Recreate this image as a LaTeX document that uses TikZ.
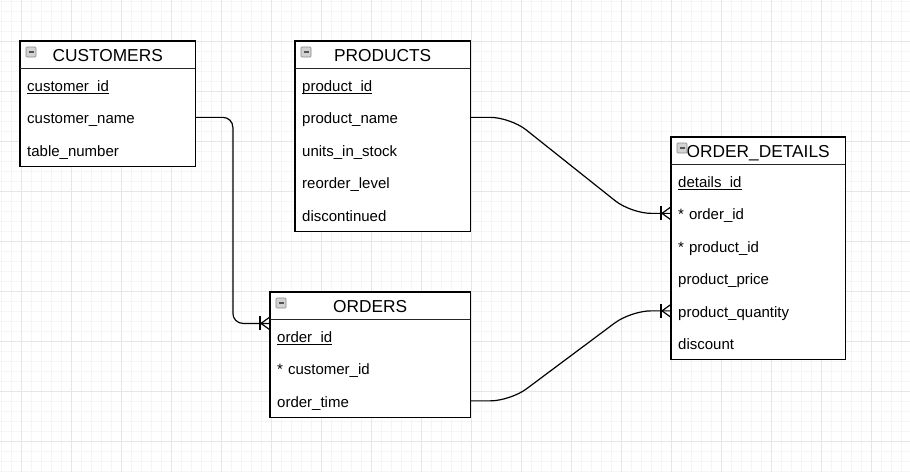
\documentclass[tikz,border=0pt]{standalone}
\usepackage{fontspec}
\setmainfont{Liberation Sans}
\usetikzlibrary{calc}

\definecolor{gridminor}{HTML}{F5F5F5}
\definecolor{gridmajor}{HTML}{E6E6E6}
\definecolor{iconfill}{HTML}{D2D2D2}
\definecolor{iconline}{HTML}{8A8A8A}
\definecolor{icondash}{HTML}{555555}

% primary-key field: text with an underline at a fixed depth
\newcommand\pkfield[1]{\setbox0=\hbox{#1}\rlap{\rule[-2.2pt]{\wd0}{0.75pt}}\box0}

\tikzset{
  x=1pt, y=1pt,
  gridthin/.style={draw=gridminor, line width=0.6pt},
  gridthick/.style={draw=gridmajor, line width=0.8pt},
  headbox/.style={fill=white, inner sep=0pt, minimum height=27pt,
    font=\fontsize{17.3}{20}\selectfont, text height=15pt, text depth=1pt},
  rowbox/.style={fill=white, inner sep=0pt, minimum height=32.5pt,
    align=left, font=\fontsize{15}{18}\selectfont, text height=14pt, text depth=1.5pt},
  tableframe/.style={draw=black, line width=1.2pt},
  headrule/.style={draw=black!85, line width=1.4pt},
  iconbox/.style={fill=iconfill, draw=iconline, line width=0.6pt, rounded corners=0.8pt},
  icondash/.style={draw=icondash, line width=1.2pt},
  rel/.style={draw=black, line width=1.2pt},
  crowfoot/.pic={
    \draw[rel] (-9,0) -- (0,6.5) (-9,0) -- (0,-6.5);
    \draw[rel] (-10,-7) -- (-10,7);
  }
}

% \erTable{name}{left}{top}{width}{title}{rows}; the first row is the key
\newcommand\erTable[6]{%
  \pgfmathsetmacro\rowtw{#4-14}%
  \node[headbox, minimum width=#4pt, anchor=north west] (#1) at (#2,#3) {#5};
  \foreach \txt [count=\i] in {#6} {
    \ifnum\i=1 \def\shown{\pkfield{\txt}}\else\def\shown{\txt}\fi
    \node[rowbox, minimum width=#4pt, text width=\rowtw pt, anchor=north west]
      (#1-\i) at ($(#1.south west)+(0,{-32.5*(\i-1)})$) {\shown};
    \xdef\lastrow{\i}
  }
  \draw[tableframe] (#1.north west) rectangle (#1-\lastrow.south east);
  \draw[headrule] (#1.south west) -- (#1.south east);
  \draw[iconbox] ($(#1.north west)+(6,-6)$) rectangle ++(10,-10);
  \draw[icondash] ($(#1.north west)+(8.5,-11)$) -- ++(5,0);
}

\begin{document}
\begin{tikzpicture}
\useasboundingbox (0,0) rectangle (910,-472);

% background grid
\foreach \gx in {1,11,...,910} \draw[gridthin] (\gx,0) -- (\gx,-472);
\foreach \gy in {1,11,...,472} \draw[gridthin] (0,-\gy) -- (910,-\gy);
\foreach \gx in {21,71,...,910} \draw[gridthick] (\gx,0) -- (\gx,-472);
\foreach \gy in {41,91,...,472} \draw[gridthick] (0,-\gy) -- (910,-\gy);

% tables
\erTable{cust}{20}{-41}{175}{CUSTOMERS}%
  {customer\_id, customer\_name, table\_number}
\erTable{prod}{295}{-41}{175}{PRODUCTS}%
  {product\_id, product\_name, units\_in\_stock, reorder\_level, discontinued}
\erTable{det}{671}{-137}{174}{ORDER\_DETAILS}%
  {details\_id, * order\_id, * product\_id, product\_price, product\_quantity, discount}
\erTable{ord}{270}{-292}{200}{ORDERS}%
  {order\_id, * customer\_id, order\_time}

% relationship ends
\coordinate (ord-in) at ($(ord-1.north west)+(0,-4)$);

% relationships
\draw[rel, rounded corners=10pt] (cust-2.east) -- ++(37.5,0) |- (ord-in);
\pic at (ord-in) {crowfoot};

\draw[rel, rounded corners=20pt] (prod-2.east) -- ++(40,0)
  -- ($(det-2.west)+(-40,0)$) -- (det-2.west);
\pic at (det-2.west) {crowfoot};

\draw[rel, rounded corners=20pt] (ord-3.east) -- ++(40,0)
  -- ($(det-5.west)+(-40,0)$) -- (det-5.west);
\pic at (det-5.west) {crowfoot};
\end{tikzpicture}
\end{document}
